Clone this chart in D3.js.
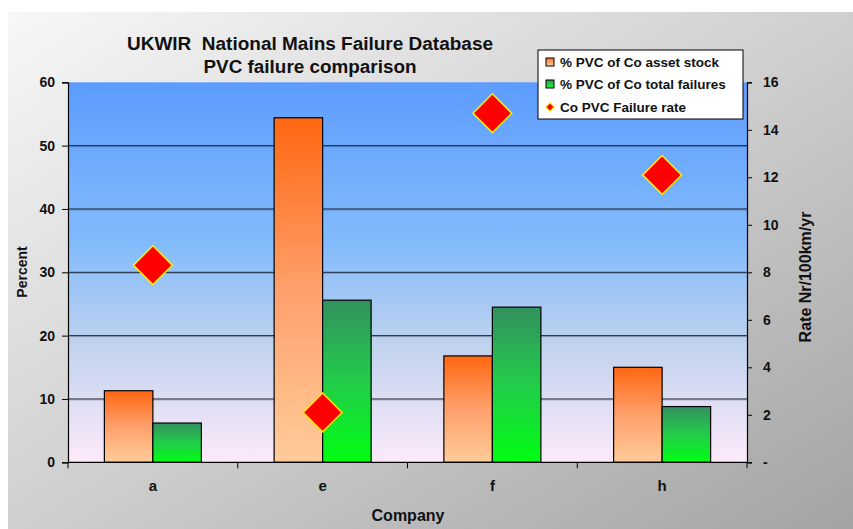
<!DOCTYPE html>
<html>
<head>
<meta charset="utf-8">
<script src="https://cdn.jsdelivr.net/npm/d3@7"></script>
<style>
  body { margin: 0; background: #fff; }
  svg { display: block; font-family: "Liberation Sans", Arial, sans-serif; font-weight: bold; }
</style>
</head>
<body>
<svg id="chart" width="853" height="529"></svg>
<script>
// -------------------------
// Data
// -------------------------
const categories = ["a", "e", "f", "h"];
const assetStock = [11.3, 54.4, 16.8, 15.0];      // % PVC of Co asset stock
const totalFailures = [6.2, 25.6, 24.5, 8.8];     // % PVC of Co total failures
const failureRate = [8.3, 2.1, 14.7, 12.1];       // Co PVC Failure rate (right axis)
const leftTicks = [0, 10, 20, 30, 40, 50, 60];
const rightTicks = [0, 2, 4, 6, 8, 10, 12, 14, 16];
const legendLabels = ["% PVC of Co asset stock", "% PVC of Co total failures", "Co PVC Failure rate"];

// -------------------------
// Layout
// -------------------------
const svg = d3.select("#chart");
const plot = {left: 68, right: 747, top: 82.3, bottom: 462.3};

const defs = svg.append("defs");
function linGrad(id, stops, x2, y2) {
    const g = defs.append("linearGradient").attr("id", id)
        .attr("x1", 0).attr("y1", 0).attr("x2", x2).attr("y2", y2);
    stops.forEach(s => g.append("stop").attr("offset", s[0]).attr("stop-color", s[1]));
}
linGrad("bgGrad", [[0, "#f7f7f7"], [0.5, "#cfcfcf"], [1, "#a3a3a3"]], 1, 1);
linGrad("plotGrad", [[0, "#5d9cff"], [0.42, "#82bbfb"], [0.7, "#c2d3ee"], [1, "#fdeafa"]], 0, 1);
linGrad("orangeGrad", [[0, "#ff6712"], [0.5, "#ffa06c"], [1, "#ffcc99"]], 0, 1);
linGrad("greenGrad", [[0, "#33905f"], [0.5, "#22cc4a"], [1, "#00ff12"]], 0, 1);

// chart area background
svg.append("rect").attr("x", 8).attr("y", 12).attr("width", 845).attr("height", 517)
    .attr("fill", "url(#bgGrad)");

const x = d3.scaleBand().domain(categories).range([plot.left, plot.right]).paddingInner(0).paddingOuter(0);
const yL = d3.scaleLinear().domain([0, 60]).range([plot.bottom, plot.top]);
const yR = d3.scaleLinear().domain([0, 16]).range([plot.bottom, plot.top]);
const barW = x.bandwidth() / 3.5;

// plot area
svg.append("rect").attr("x", plot.left).attr("y", plot.top)
    .attr("width", plot.right - plot.left).attr("height", plot.bottom - plot.top)
    .attr("fill", "url(#plotGrad)");

// gridlines
const grid = svg.append("g");
leftTicks.filter(t => t > 0 && t < 60).forEach(t => {
    grid.append("line").attr("x1", plot.left).attr("x2", plot.right)
        .attr("y1", yL(t) + 1).attr("y2", yL(t) + 1)
        .attr("stroke", "rgba(0,0,0,0.22)");
    grid.append("line").attr("x1", plot.left).attr("x2", plot.right)
        .attr("y1", yL(t)).attr("y2", yL(t))
        .attr("stroke", "#1d2530").attr("stroke-width", 1);
});

// bars
const series = [
    {values: assetStock, fill: "url(#orangeGrad)", offset: -barW},
    {values: totalFailures, fill: "url(#greenGrad)", offset: 0}
];
const barsG = svg.append("g");
series.forEach(s => {
    barsG.selectAll(null)
        .data(categories.map((c, i) => ({c, v: s.values[i]})))
        .enter()
        .append("rect")
        .attr("x", d => x(d.c) + x.bandwidth() / 2 + s.offset)
        .attr("y", d => yL(d.v))
        .attr("width", barW)
        .attr("height", d => yL(0) - yL(d.v))
        .attr("fill", s.fill)
        .attr("stroke", "#000")
        .attr("stroke-width", 1.2);
});

// diamonds
const diamond = d3.symbol().type(d3.symbolSquare).size(27.5 * 27.5);
svg.append("g").selectAll("path")
    .data(categories.map((c, i) => ({c, v: failureRate[i]})))
    .enter()
    .append("path")
    .attr("d", diamond)
    .attr("transform", d => `translate(${x(d.c) + x.bandwidth() / 2},${yR(d.v)}) rotate(45)`)
    .attr("fill", "#ff0000")
    .attr("stroke", "#ffee00")
    .attr("stroke-width", 1.5);

// -------------------------
// Axes
// -------------------------
const axisL = svg.append("g").attr("transform", `translate(${plot.left},0)`)
    .call(d3.axisLeft(yL).tickValues(leftTicks).tickSize(6).tickPadding(7));
const axisR = svg.append("g").attr("transform", `translate(${plot.right},0)`)
    .call(d3.axisRight(yR).tickValues(rightTicks).tickSize(5).tickPadding(11)
        .tickFormat(d => d === 0 ? "-" : d));
const axisB = svg.append("g").attr("transform", `translate(0,${plot.bottom})`)
    .call(d3.axisBottom(x).tickSize(0).tickPadding(18));
// category boundary ticks
axisB.selectAll(".bound").data(d3.range(categories.length + 1)).enter()
    .append("line").attr("class", "bound")
    .attr("x1", i => plot.left + i * x.bandwidth()).attr("x2", i => plot.left + i * x.bandwidth())
    .attr("y1", 0).attr("y2", 6).attr("stroke", "#000");

[axisL, axisR, axisB].forEach(a => {
    a.select(".domain").attr("stroke", "#000").attr("stroke-width", 1.2);
    a.selectAll(".tick line").attr("stroke", "#000");
    a.selectAll("text").attr("fill", "#111").style("font-size", "14px").style("font-weight", "bold")
        .style("font-family", '"Liberation Sans", Arial, sans-serif');
});
axisB.selectAll("text").style("font-size", "15px");
axisB.select(".domain").attr("d", `M${plot.left},0H${plot.right}`);

// axis titles
svg.append("text").attr("transform", "translate(27,272) rotate(-90)")
    .attr("text-anchor", "middle").style("font-size", "14px").attr("fill", "#111").text("Percent");
svg.append("text").attr("transform", "translate(811,277) rotate(-90)")
    .attr("text-anchor", "middle").style("font-size", "16px").attr("fill", "#111").text("Rate Nr/100km/yr");
svg.append("text").attr("x", 408).attr("y", 521)
    .attr("text-anchor", "middle").style("font-size", "16px").attr("fill", "#111").text("Company");

// title
svg.append("text").attr("x", 310).attr("y", 50).attr("text-anchor", "middle")
    .style("font-size", "18px").attr("fill", "#111").attr("xml:space", "preserve")
    .attr("textLength", 366).attr("lengthAdjust", "spacingAndGlyphs")
    .text("UKWIR  National Mains Failure Database");
svg.append("text").attr("x", 310).attr("y", 73).attr("text-anchor", "middle")
    .style("font-size", "18px").attr("fill", "#111")
    .attr("textLength", 213).attr("lengthAdjust", "spacingAndGlyphs")
    .text("PVC failure comparison");

// -------------------------
// Legend
// -------------------------
const lg = svg.append("g").attr("transform", "translate(538,50)");
lg.append("rect").attr("width", 205).attr("height", 69).attr("fill", "#fff")
    .attr("stroke", "#000").attr("stroke-width", 1);
const rowsY = [12, 34, 57];
lg.append("rect").attr("x", 8).attr("y", rowsY[0] - 4).attr("width", 8).attr("height", 8)
    .attr("fill", "url(#orangeGrad)").attr("stroke", "#000");
lg.append("rect").attr("x", 8).attr("y", rowsY[1] - 4).attr("width", 8).attr("height", 8)
    .attr("fill", "url(#greenGrad)").attr("stroke", "#000");
lg.append("path").attr("d", d3.symbol().type(d3.symbolSquare).size(36))
    .attr("transform", `translate(12,${rowsY[2]}) rotate(45)`)
    .attr("fill", "#ff0000").attr("stroke", "#ffee00").attr("stroke-width", 1.2);
lg.selectAll("text.lab").data(legendLabels).enter()
    .append("text").attr("class", "lab")
    .attr("x", 22).attr("y", (d, i) => rowsY[i] + 5)
    .style("font-size", "13.5px").attr("fill", "#111")
    .text(d => d);
</script>
</body>
</html>
